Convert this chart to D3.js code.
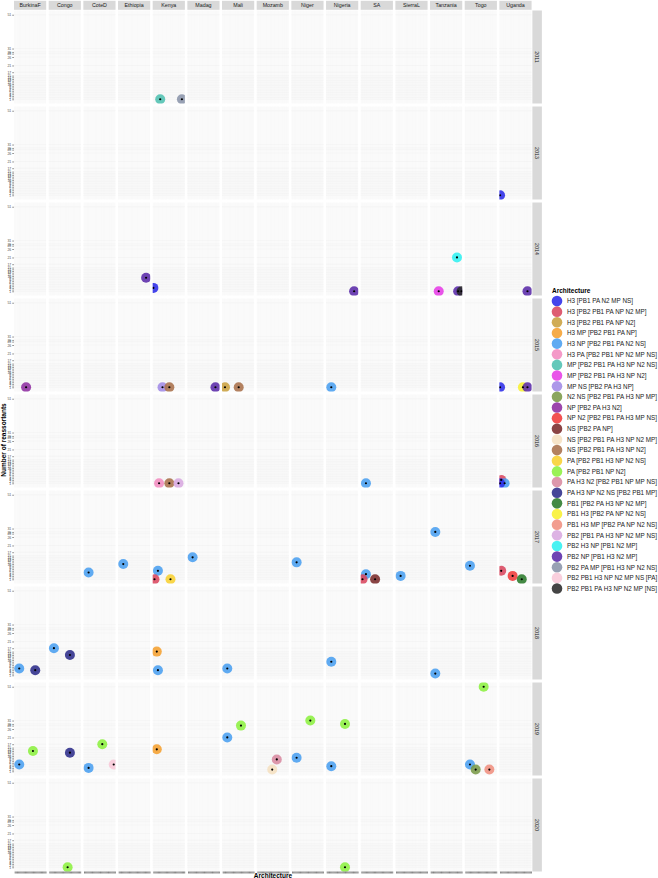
<!DOCTYPE html>
<html><head><meta charset="utf-8">
<script src="https://cdn.jsdelivr.net/npm/d3@7"></script>
<style>body{margin:0;background:#fff}svg{display:block;font-family:"Liberation Sans",Arial,sans-serif}</style>
</head><body><svg id="c" width="658" height="878"></svg>
<script>
const countries=["BurkinaF","Congo","CoteD","Ethiopia","Kenya","Madag","Mali","Mozamb","Niger","Nigeria","SA","SierraL","Tanzania","Togo","Uganda"];
const years=["2011","2013","2014","2015","2016","2017","2018","2019","2020"];
const architectures=["H3 [PB1 PA N2 MP NS]","H3 [PB2 PB1 PA NP N2 MP]","H3 [PB2 PB1 PA NP N2]","H3 MP [PB2 PB1 PA NP]","H3 NP [PB2 PB1 PA N2 NS]","H3 PA [PB2 PB1 NP N2 MP NS]","MP [PB2 PB1 PA H3 NP N2 NS]","MP [PB2 PB1 PA H3 NP N2]","MP NS [PB2 PA H3 NP]","N2 NS [PB2 PB1 PA H3 NP MP]","NP [PB2 PA H3 N2]","NP N2 [PB2 PB1 PA H3 MP NS]","NS [PB2 PA NP]","NS [PB2 PB1 PA H3 NP N2 MP]","NS [PB2 PB1 PA H3 NP N2]","PA [PB2 PB1 H3 NP N2 NS]","PA [PB2 PB1 NP N2]","PA H3 N2 [PB2 PB1 NP MP NS]","PA H3 NP N2 NS [PB2 PB1 MP]","PB1 [PB2 PA H3 NP N2 MP]","PB1 H3 [PB2 PA NP N2 NS]","PB1 H3 MP [PB2 PA NP N2 NS]","PB2 [PB1 PA H3 NP N2 MP NS]","PB2 H3 NP [PB1 N2 MP]","PB2 NP [PB1 H3 N2 MP]","PB2 PA MP [PB1 H3 NP N2 NS]","PB2 PB1 H3 NP N2 MP NS [PA]","PB2 PB1 PA H3 NP N2 MP [NS]"];
const archColors=["#2b2be8","#d9475e","#c9a03f","#f5a030","#4a9ff0","#f28cc0","#4ec0b0","#e63ce6","#a08ae6","#7a9a48","#8e2ea0","#f03a3a","#7a2a2a","#f5e0c0","#a8704a","#f8d030","#8cf040","#d88aa0","#2c2c8a","#2a7a2a","#f8f030","#f09080","#d8a8e0","#30f0f0","#5a2aa8","#8a94aa","#f8c8d8","#2a2a2a"];
const yTicks=[51,31,29,28,26,21,17,15,14,13,12,11,10,9,8,7,6,5,4,3,2,1];
// [year, country, architecture number (1-based, legend order), number of reassortants]
const points=[
["2011","Kenya",7,1],["2011","Kenya",26,1],
["2013","Uganda",1,1],
["2014","Ethiopia",25,9],["2014","Kenya",1,3],["2014","Nigeria",25,1],["2014","Tanzania",24,21],["2014","Tanzania",8,1],["2014","Tanzania",25,1],["2014","Tanzania",28,1],["2014","Uganda",25,1],
["2015","BurkinaF",11,1],["2015","Kenya",9,1],["2015","Kenya",15,1],["2015","Madag",25,1],["2015","Mali",3,1],["2015","Mali",15,1],["2015","Nigeria",5,1],["2015","Uganda",1,1],["2015","Uganda",21,1],["2015","Uganda",25,1],
["2016","Kenya",6,1],["2016","Kenya",15,1],["2016","Kenya",23,1],["2016","SA",5,1],["2016","Uganda",2,3],["2016","Uganda",5,1],["2016","Uganda",1,1],
["2017","CoteD",5,5],["2017","Ethiopia",5,10],["2017","Kenya",5,6],["2017","Kenya",2,1],["2017","Kenya",16,1],["2017","Madag",5,14],["2017","Niger",5,11],["2017","SA",5,4],["2017","SA",2,1],["2017","SA",13,1],["2017","SierraL",5,3],["2017","Tanzania",5,29],["2017","Togo",5,9],["2017","Uganda",2,6],["2017","Uganda",12,3],["2017","Uganda",20,1],
["2018","BurkinaF",5,5],["2018","BurkinaF",19,4],["2018","Congo",5,17],["2018","Congo",19,13],["2018","Kenya",4,15],["2018","Kenya",5,4],["2018","Mali",5,5],["2018","Nigeria",5,9],["2018","Tanzania",5,2],
["2019","BurkinaF",5,5],["2019","BurkinaF",17,13],["2019","Congo",19,12],["2019","CoteD",5,3],["2019","CoteD",17,17],["2019","CoteD",27,5],["2019","Kenya",4,14],["2019","Mali",5,21],["2019","Mali",17,28],["2019","Mozamb",14,2],["2019","Mozamb",18,8],["2019","Niger",5,9],["2019","Niger",17,31],["2019","Nigeria",5,4],["2019","Nigeria",17,29],["2019","Togo",17,51],["2019","Togo",5,5],["2019","Togo",10,2],["2019","Togo",22,2],
["2020","Congo",17,1],["2020","Nigeria",17,1]
];

const svg=d3.select("#c");
const left0=14, colStep=34.67, panelW=32.2, top0=10.5, rowStep=96, panelH=93;
const colX=d3.scaleBand().domain(countries).range([left0,left0+colStep*countries.length]);
const rowY=d3.scaleBand().domain(years).range([top0,top0+rowStep*years.length]);
const x=d3.scalePoint().domain(architectures).range([0,panelW]).padding(0.6);
const y=d3.scaleLinear().domain([-1.5,53.5]).range([panelH,0]);
const color=d3.scaleOrdinal().domain(architectures).range(archColors);

svg.append("defs").append("clipPath").attr("id","pclip").append("rect").attr("width",panelW).attr("height",panelH);

countries.forEach(c=>{
  const g=svg.append("g").attr("transform",`translate(${colX(c)},0.8)`);
  g.append("rect").attr("width",panelW).attr("height",9).attr("fill","#d9d9d9");
  g.append("text").attr("x",panelW/2).attr("y",6.6).attr("text-anchor","middle").attr("font-size",5.3).attr("fill","#1a1a1a").text(c);
});
years.forEach(yr=>{
  const g=svg.append("g").attr("transform",`translate(${left0+colStep*14+panelW+0.8},${rowY(yr)})`);
  g.append("rect").attr("width",9.5).attr("height",panelH).attr("fill","#d9d9d9");
  g.append("text").attr("transform",`translate(3,${panelH/2}) rotate(90)`).attr("text-anchor","middle").attr("font-size",5.3).attr("fill","#1a1a1a").text(yr);
});

years.forEach(yr=>{
  countries.forEach(c=>{
    const g=svg.append("g").attr("transform",`translate(${colX(c)},${rowY(yr)})`);
    g.selectAll("line.v").data(architectures).join("line").attr("class","v").attr("x1",d=>x(d)).attr("x2",d=>x(d)).attr("y1",0).attr("y2",panelH).attr("stroke","#f1f1f1").attr("stroke-width",0.4);
    g.selectAll("line.h").data(yTicks).join("line").attr("class","h").attr("x1",0).attr("x2",panelW).attr("y1",d=>y(d)).attr("y2",d=>y(d)).attr("stroke","#eeeeee").attr("stroke-width",0.4);
    const pts=points.filter(p=>p[0]===yr&&p[1]===c);
    const pg=g.append("g").attr("clip-path","url(#pclip)");
    pg.selectAll("circle.big").data(pts).join("circle").attr("class","big")
      .attr("cx",d=>x(architectures[d[2]-1])).attr("cy",d=>y(d[3])).attr("r",5)
      .attr("fill",d=>color(architectures[d[2]-1])).attr("fill-opacity",0.88);
    pg.selectAll("circle.small").data(pts).join("circle").attr("class","small")
      .attr("cx",d=>x(architectures[d[2]-1])).attr("cy",d=>y(d[3])).attr("r",1.1).attr("fill","#000");
  });
  const ax=svg.append("g").attr("transform",`translate(${left0},${rowY(yr)})`)
    .call(d3.axisLeft(y).tickValues(yTicks).tickSize(1.8).tickPadding(1).tickFormat(d3.format("d")));
  ax.select(".domain").remove();
  ax.selectAll("line").attr("stroke","#333").attr("stroke-width",0.5);
  ax.selectAll("text").attr("font-size",3.4).attr("fill","#4d4d4d");
});
countries.forEach(c=>{
  const ax=svg.append("g").attr("transform",`translate(${colX(c)},${rowY("2020")+panelH})`)
    .call(d3.axisBottom(x).tickSize(2).tickFormat(""));
  ax.select(".domain").remove();
  ax.selectAll("line").attr("stroke","#333").attr("stroke-width",0.6);
});
svg.append("text").attr("x",273).attr("y",877.5).attr("text-anchor","middle").attr("font-size",6.5).attr("font-weight","bold").text("Architecture");
svg.append("text").attr("transform","translate(6,440) rotate(-90)").attr("text-anchor","middle").attr("font-size",6.5).attr("font-weight","bold").text("Number of reassortants");

const lg=svg.append("g").attr("transform","translate(552,0)");
lg.append("text").attr("x",0).attr("y",292.5).attr("font-size",6.5).attr("font-weight","bold").text("Architecture");
const items=lg.selectAll("g.it").data(architectures).join("g").attr("transform",(d,i)=>`translate(0,${301+i*10.65})`);
items.append("circle").attr("cx",5).attr("cy",0).attr("r",5.3).attr("fill",d=>color(d)).attr("fill-opacity",0.88);
items.append("text").attr("x",15).attr("y",2.3).attr("font-size",6.3).attr("fill","#1a1a1a").text(d=>d);
</script></body></html>
